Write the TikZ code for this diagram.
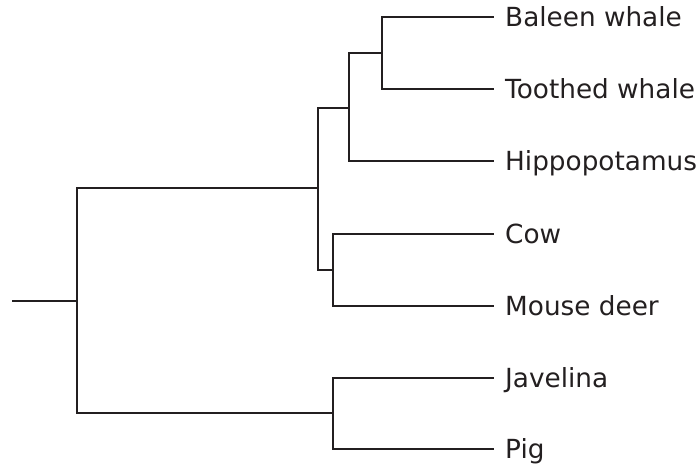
\documentclass[tikz,border=0pt]{standalone}
\usepackage{fontspec}
\setmainfont{DejaVu Sans}
\definecolor{ink}{HTML}{231F20}
\begin{document}
\begin{tikzpicture}[x=1pt,y=-1pt,
  branch/.style={draw=ink,line width=2.4pt,line cap=rect},
  taxon/.style={anchor=base west,inner sep=0pt,text=ink,font=\fontsize{26.3}{30}\selectfont}]
\useasboundingbox (0,0) rectangle (700,465);
% leaf ends
\coordinate (lbw) at (493,17);
\coordinate (ltw) at (493,89);
\coordinate (lhp) at (493,161);
\coordinate (lcw) at (493,234);
\coordinate (lmd) at (493,306);
\coordinate (ljv) at (493,378);
\coordinate (lpg) at (493,449);
% labels
\node[taxon] (tbw) at (505,26.5) {Baleen whale};
\node[taxon] (ttw) at (505,98.5) {Toothed whale};
\node[taxon] (thp) at (505,170.5) {Hippopotamus};
\node[taxon] (tcw) at (505,243.5) {Cow};
\node[taxon] (tmd) at (505,315.5) {Mouse deer};
\node[taxon] (tjv) at (505,387.5) {Javelina};
\node[taxon] (tpg) at (505,458.5) {Pig};
% internal nodes
\coordinate (whales) at (382,53);
\coordinate (whippo) at (349,108);
\coordinate (bovid) at (333,270);
\coordinate (cetrum) at (318,188);
\coordinate (suid) at (333,413);
\coordinate (root) at (77,301);
\coordinate (stem) at (13,301);
% branches
\draw[branch] (whales) |- (lbw);
\draw[branch] (whales) |- (ltw);
\draw[branch] (whippo) |- (whales);
\draw[branch] (whippo) |- (lhp);
\draw[branch] (bovid) |- (lcw);
\draw[branch] (bovid) |- (lmd);
\draw[branch] (cetrum) |- (whippo);
\draw[branch] (cetrum) |- (bovid);
\draw[branch] (suid) |- (ljv);
\draw[branch] (suid) |- (lpg);
\draw[branch] (root) |- (cetrum);
\draw[branch] (root) |- (suid);
\draw[branch] (stem) -- (root);
\end{tikzpicture}
\end{document}
